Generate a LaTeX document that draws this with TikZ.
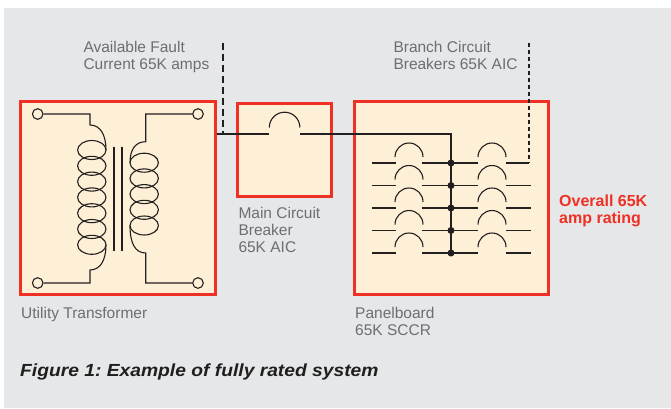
\documentclass[tikz,border=0pt]{standalone}
\usepackage{fontspec}
\setmainfont{Liberation Sans}
\definecolor{bg}{HTML}{E6E7E8}
\definecolor{cream}{HTML}{FEF0D6}
\definecolor{fred}{HTML}{EE3124}
\definecolor{tgrey}{HTML}{6D6E71}
\definecolor{wirec}{HTML}{231F20}
\tikzset{
  frame/.style={draw=fred, fill=cream, line width=3pt, inner sep=0pt},
  wire/.style={draw=wirec, line width=1.1pt},
  term/.style={circle, draw=wirec, fill=cream, line width=1.1pt, minimum size=10.6pt, inner sep=0pt},
  bdot/.style={circle, fill=wirec, minimum size=7pt, inner sep=0pt},
  dashA/.style={draw=wirec, line width=2.2pt, dash pattern=on 7pt off 4pt},
  dashB/.style={draw=wirec, line width=2.2pt, dash pattern=on 4pt off 3pt},
  lbl/.style={text=tgrey, font=\fontsize{15.5}{17}\selectfont\frenchspacing, align=left, inner sep=0pt, anchor=base west},
  redlbl/.style={text=fred, font=\fontsize{16}{16.6}\selectfont\bfseries, align=left, inner sep=0pt, anchor=base west},
  caption/.style={text=black!88, font=\fontsize{17.5}{20}\selectfont\bfseries\itshape\frenchspacing, inner sep=0pt, anchor=base west}
}
\begin{document}
\begin{tikzpicture}[x=1pt,y=-1pt]
\fill[white] (0,0) rectangle (671,408);
\fill[bg] (4,8) rectangle (671,408);
\useasboundingbox (0,0) rectangle (671,408);

% boxes
\node[frame, minimum width=194.5pt, minimum height=193pt] (xf) at (117.75,198) {};
\node[frame, minimum width=94.3pt, minimum height=93.6pt] (mcb) at (284.7,150) {};
\node[frame, minimum width=194.3pt, minimum height=193pt] (pb) at (451.4,198) {};

% transformer terminals
\node[term] (t1) at (37.7,114) {};
\node[term] (t2) at (37.7,283) {};
\node[term] (t3) at (198,114) {};
\node[term] (t4) at (198,283) {};

% primary winding
\draw[wire] (t1) -- (90,114) -- (90,125) .. controls (101,125) and (106,136) .. (106,150);
\foreach \y in {150,165.8,181.6,197.4,213.2,229,244.8}
  \draw[wire] (91.8,\y) ellipse[x radius=14.2, y radius=9.5];
\draw[wire] (106,244.8) .. controls (106,259) and (101,270) .. (90,270) -- (90,283) -- (t2);

% core
\draw[wire] (114,146.7) -- (114,251);
\draw[wire] (122,146.7) -- (122,251);

% secondary winding
\draw[wire] (t3) -- (145.7,114) -- (145.7,141.7) .. controls (135,141.7) and (130,150) .. (130,162.7);
\foreach \y in {162.7,178.4,194.1,209.8,225.5}
  \draw[wire] (144.2,\y) ellipse[x radius=14.2, y radius=9.5];
\draw[wire] (130,225.5) .. controls (130,243) and (135,253) .. (145.7,253) -- (145.7,283) -- (t4);

% main feeder and main breaker
\coordinate (j1) at (223.3,134);
\draw[wire] (xf.east |- j1) -- (269.3,134);
\draw[wire] (269.3,127.5) arc[start angle=180, end angle=360, radius=15.3];
\draw[wire] (300,134) -- (451,134) -- (451,253);

% fault current dashed line
\coordinate (fa) at (223.3,42.7);
\draw[dashA] (fa) -- (j1);

% panelboard branch breakers
\foreach \y [count=\i] in {163,185.5,208,230.5,253} {
  \draw[wire] (372,\y) -- (396,\y);
  \draw[wire] (395,\y-6) arc[start angle=180, end angle=360, radius=14];
  \draw[wire] (422,\y) -- (478,\y);
  \draw[wire] (478,\y-6) arc[start angle=180, end angle=360, radius=14];
  \node[bdot] (d\i) at (451,\y) {};
}
\foreach \y in {185.5,208,230.5,253}
  \draw[wire] (506,\y) -- (531,\y);
\coordinate (bc) at (529,163);
\coordinate (bt) at (529,42.7);
\draw[wire] (506,163) -- (bc);
\draw[dashB] (bt) -- (bc);

% labels (base anchor = baseline of last line)
\node[lbl] (lavail) at (83.3,69) {Available Fault\\Current 65K amps};
\node[lbl] (lbranch) at (393.3,69) {Branch Circuit\\Breakers 65K AIC};
\node[lbl] (lmain) at (238.3,252.3) {Main Circuit\\Breaker\\65K AIC};
\node[lbl] (lxf) at (21,318.3) {Utility Transformer};
\node[lbl] (lpb) at (355,335.7) {Panelboard\\65K SCCR};
\node[redlbl] (lover) at (559,223.3) {Overall 65K\\amp rating};
\node[caption] (lcap) at (20,376.7) {\scalebox{1.1}[1]{Figure 1: Example of fully rated system}};
\end{tikzpicture}
\end{document}
